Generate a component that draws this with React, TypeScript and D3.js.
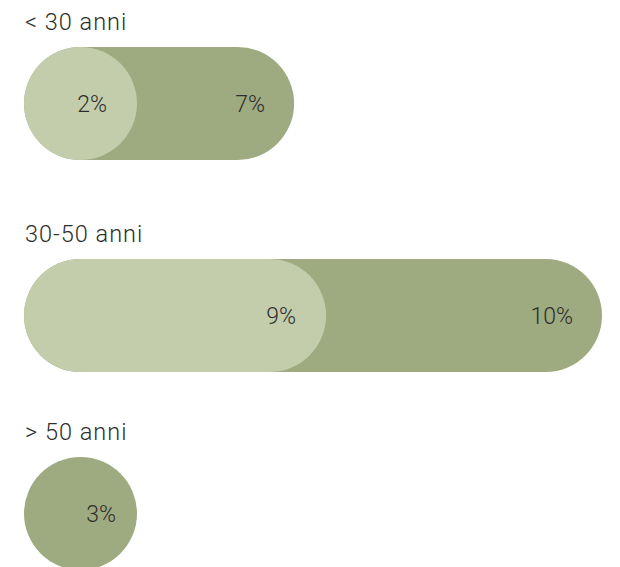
import React from "react";
import * as d3 from "d3";

const groups: string[] = ["< 30 anni", "30-50 anni", "> 50 anni"];
const lightValues: (number | null)[] = [2, 9, null];
const darkValues: number[] = [7, 10, 3];

const W = 620;
const H = 567;
const BAR_H = 113;
const LEFT = 24;
const rowTops = [47, 259, 457];
const LIGHT = "#c3cdab";
const DARK = "#9eaa7f";
const TEXT = "#2e2e2e";
const FONT = "Roboto, 'Noto Sans', sans-serif";

export default function App() {
  const maxTotal = d3.max(groups.map((_, i) => (lightValues[i] ?? 0) + darkValues[i])) as number;
  const x = d3.scaleLinear().domain([0, maxTotal]).range([-7, 578]);

  return (
    <div style={{ position: "absolute", left: 0, top: 0 }}>
      <svg width={W} height={H} style={{ display: "block" }}>
        {groups.map((g, i) => {
          const top = rowTops[i];
          const cy = top + BAR_H / 2;
          const lv = lightValues[i];
          const dv = darkValues[i];
          const total = (lv ?? 0) + dv;
          const darkW = Math.max(x(total), BAR_H);
          const lightW = lv != null ? Math.max(x(lv) + 32, BAR_H) : 0;
          return (
            <g key={g}>
              <text x={LEFT + 1} y={top - 17} fontFamily={FONT} fontWeight={300} fontSize={23.5} letterSpacing={1} fill={TEXT}>
                {g}
              </text>
              <rect x={LEFT} y={top} width={darkW} height={BAR_H} rx={BAR_H / 2} ry={BAR_H / 2} fill={DARK} />
              {lv != null && (
                <rect x={LEFT} y={top} width={lightW} height={BAR_H} rx={BAR_H / 2} ry={BAR_H / 2} fill={LIGHT} />
              )}
              {lv != null && (
                <text x={LEFT + lightW - 30} y={cy + 8.5} textAnchor="end" fontFamily={FONT} fontWeight={300} fontSize={23} fill={TEXT}>
                  {lv + "%"}
                </text>
              )}
              <text x={LEFT + darkW - (lv != null ? 29 : 21)} y={cy + 8.5} textAnchor="end" fontFamily={FONT} fontWeight={300} fontSize={23} fill={TEXT}>
                {dv + "%"}
              </text>
            </g>
          );
        })}
      </svg>
    </div>
  );
}
